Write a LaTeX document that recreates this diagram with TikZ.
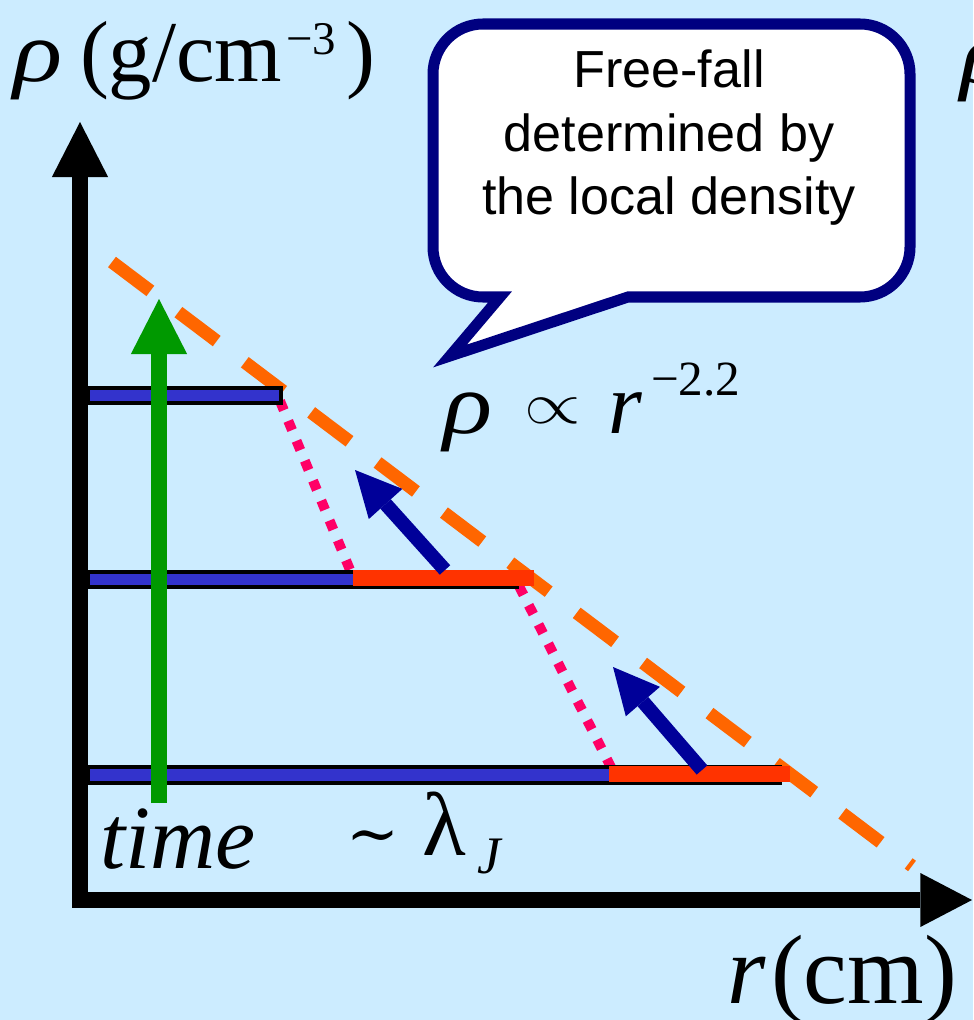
\documentclass[tikz,border=0pt]{standalone}
\usepackage{fontspec}
\setmainfont{Liberation Serif}
\newfontfamily\sansf{Liberation Sans}
\newfontfamily\dvs{DejaVu Serif}
\usetikzlibrary{arrows.meta}
\definecolor{bgblue}{HTML}{CCECFF}
\definecolor{barblue}{HTML}{3333CC}
\definecolor{barred}{HTML}{FF3300}
\definecolor{dashorange}{HTML}{FF6600}
\definecolor{dotpink}{HTML}{FF0066}
\definecolor{arrnavy}{HTML}{000099}
\definecolor{callnavy}{HTML}{000080}
\definecolor{timegreen}{HTML}{009900}
\newcommand{\wrho}{\scalebox{1.18}[1]{ρ}}
\begin{document}
\begin{tikzpicture}[x=0.03cm,y=-0.03cm,
  lbl/.style={inner sep=0pt,outer sep=0pt,anchor=base west},
  ctext/.style={inner sep=0pt,outer sep=0pt,anchor=base,font=\sansf\fontsize{44.5}{50}\selectfont},
  bigit/.style={font=\fontsize{74}{80}\selectfont\itshape},
  bigrm/.style={font=\fontsize{74}{80}\selectfont},
  axisline/.style={line width=13.7pt,line join=miter,
    {Triangle[length=47pt,width=48pt,line width=0pt]}-{Triangle[length=44pt,width=46pt,line width=0pt]}},
  greenarrow/.style={draw=timegreen,line width=13.7pt,-{Triangle[length=47pt,width=48pt,line width=0pt]},fill=timegreen},
  navyarrow/.style={draw=arrnavy,line width=12pt,-{Triangle[length=39pt,width=38.5pt,line width=0pt]},fill=arrnavy},
  dashline/.style={draw=dashorange,line width=11.1pt,dash pattern=on 41pt off 30pt},
  dotline/.style={draw=dotpink,line width=8.5pt,dash pattern=on 8.5pt off 9.9pt},
  barbox/.style={fill=barblue,draw=black,line width=2.6pt},
  redbox/.style={fill=barred,draw=none}
]
\useasboundingbox[fill=bgblue] (0,0) rectangle (973,1020);

% callout
\path[fill=white,draw=callnavy,line width=9.4pt,line join=miter]
  (628,297) -- (860,297) .. controls (887.6,297) and (910,274.6) .. (910,247)
  -- (910,74) .. controls (910,46.4) and (887.6,24) .. (860,24)
  -- (483,24) .. controls (455.4,24) and (433,46.4) .. (433,74)
  -- (433,247) .. controls (433,274.6) and (455.4,297) .. (483,297)
  -- (500,297) -- (450,356) -- cycle;
\node[ctext] (cl1) at (669,88) {Free-fall};
\node[ctext] (cl2) at (669,151.5) {determined by};
\node[ctext] (cl3) at (669,215) {the local density};

% power-law dashed line
\coordinate (os) at (112,262);
\coordinate (oe) at (912,866);
\draw[dashline] (os) -- (oe);

% dotted connections
\coordinate (p1s) at (280,401);
\coordinate (p1e) at (355,582);
\coordinate (p2s) at (519,586);
\coordinate (p2e) at (618,781);
\draw[dotline] (p1s) -- (p1e);
\draw[dotline] (p2s) -- (p2e);

% bars
\path[barbox] (88,388) rectangle (281,403);
\path[barbox] (88,572) rectangle (517,587);
\path[redbox] (353,570) rectangle (534,586);
\path[barbox] (88,767) rectangle (780,783);
\path[redbox] (609,766) rectangle (790,782);

% navy arrows
\coordinate (a1s) at (445,570);
\coordinate (a1e) at (355,470);
\coordinate (a2s) at (702,770);
\coordinate (a2e) at (613,667);
\draw[navyarrow] (a1s) -- (a1e);
\draw[navyarrow] (a2s) -- (a2e);

% time arrow
\coordinate (gs) at (159,803);
\coordinate (ge) at (159,299);
\draw[greenarrow] (gs) -- (ge);

% axes
\coordinate (ytip) at (80,122);
\coordinate (corner) at (80,900);
\coordinate (xtip) at (972,900);
\draw[axisline] (ytip) -- (corner) -- (xtip);

% labels
\node[lbl,bigit] (rho1) at (13,82) {\wrho};
\node[lbl,bigrm] (unit1) at (80,82) {(g/cm};
\node[lbl,font=\fontsize{40}{42}\selectfont] (exp1) at (286,55) {−3};
\node[lbl,bigrm] (par1) at (346,82) {)};
\node[lbl,bigit] (rho3) at (960,84) {\wrho};

\node[lbl,bigit] (rho2) at (443,433) {\wrho};
\node[lbl] (prop) at (524,423) {\scalebox{6.2}[5]{$\propto$}};
\node[lbl,bigit] (rvar) at (608,433) {r};
\node[lbl,font=\fontsize{42}{44}\selectfont] (exp2) at (651,395) {−2.2};

\node[lbl,font=\fontsize{77}{80}\selectfont\itshape] (time) at (100,868) {time};
\node[lbl,font=\dvs\fontsize{54}{56}\selectfont] (tilde) at (346,855) {∼};
\node[lbl,font=\fontsize{77}{80}\selectfont] (lam) at (422,855) {λ};
\node[lbl,font=\fontsize{45}{48}\selectfont\itshape] (jsub) at (477,873) {J};

\node[lbl,font=\fontsize{84}{90}\selectfont\itshape] (rlab) at (727,1003) {r};
\node[lbl,font=\fontsize{84}{90}\selectfont] (cmlab) at (771,1003) {(cm)};
\end{tikzpicture}
\end{document}
